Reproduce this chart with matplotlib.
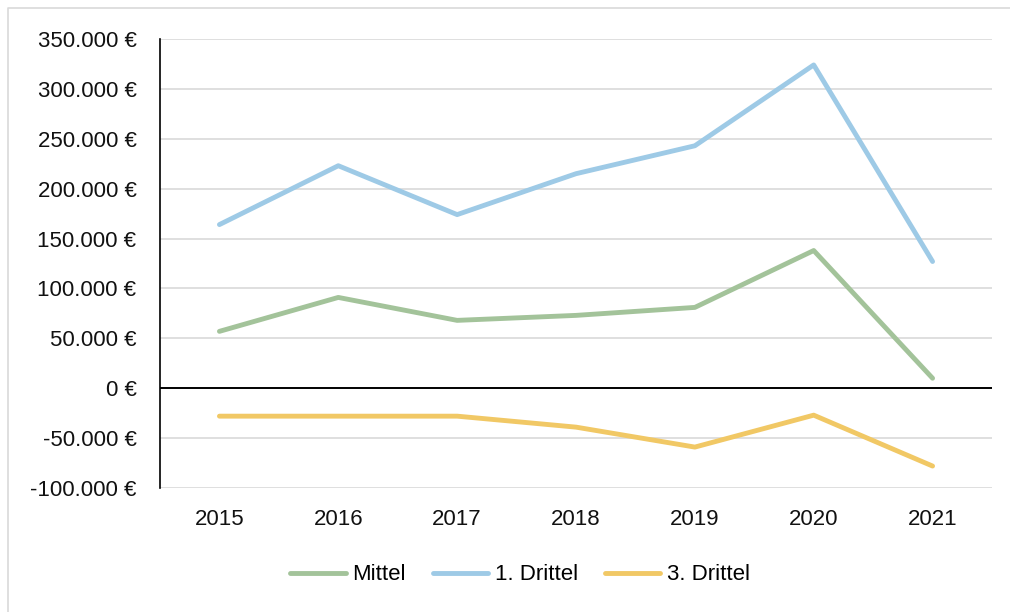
import matplotlib
matplotlib.use("Agg")
import matplotlib.pyplot as plt
from matplotlib.lines import Line2D
from matplotlib.ticker import FuncFormatter

years = ["2015", "2016", "2017", "2018", "2019", "2020", "2021"]
mittel = [57000, 91000, 68000, 73000, 81000, 138000, 10000]
drittel_1 = [164000, 223000, 174000, 215000, 243000, 324000, 127000]
drittel_3 = [-28000, -28000, -28000, -39000, -59000, -27000, -78000]

W, H = 1010, 612
fig = plt.figure(figsize=(W / 100, H / 100), dpi=100)
plt.rcParams["font.family"] = ["Liberation Sans", "DejaVu Sans"]

# Rahmen (nur links und oben sichtbar, wie im Ausschnitt)
fig.lines.append(Line2D([8 / W, 8 / W, 1], [0, 1 - 8 / H, 1 - 8 / H], transform=fig.transFigure,
                        color="#D9D9D9", linewidth=1.2))

ax = fig.add_axes([160 / W, 1 - 488 / H, (992 - 160) / W, (488 - 39) / H])

x = list(range(len(years)))
ax.plot(x, mittel, color="#A3C39A", lw=3.5, solid_capstyle="round", label="Mittel", zorder=3)
ax.plot(x, drittel_1, color="#9ECAE6", lw=3.5, solid_capstyle="round", label="1. Drittel", zorder=3)
ax.plot(x, drittel_3, color="#F1C865", lw=3.5, solid_capstyle="round", label="3. Drittel", zorder=3)

ax.set_xlim(-0.5, 6.5)
ax.set_ylim(-100000, 350000)
ax.set_yticks(range(-100000, 350001, 50000))
ax.set_xticks(x)
ax.set_xticklabels(years)


def euro(v, pos):
    s = f"{int(v):,}".replace(",", ".")
    return s + " €"


ax.yaxis.set_major_formatter(FuncFormatter(euro))
ax.grid(axis="y", color="#D9D9D9", lw=1.2, zorder=0)
ax.axhline(0, color="black", lw=1.4, zorder=2)

for side in ["top", "right", "bottom"]:
    ax.spines[side].set_visible(False)
ax.spines["left"].set_color("black")
ax.spines["left"].set_linewidth(1.2)
ax.tick_params(axis="both", length=0, labelsize=16, colors="#111111")
ax.tick_params(axis="y", pad=17)
ax.tick_params(axis="x", pad=15)

fig.legend(loc="center", bbox_to_anchor=(520 / W, 1 - 575 / H), ncol=3, frameon=False,
           fontsize=16, handlelength=2.5, handletextpad=0.3, columnspacing=1.2)

fig.savefig("out.png", dpi=100)
